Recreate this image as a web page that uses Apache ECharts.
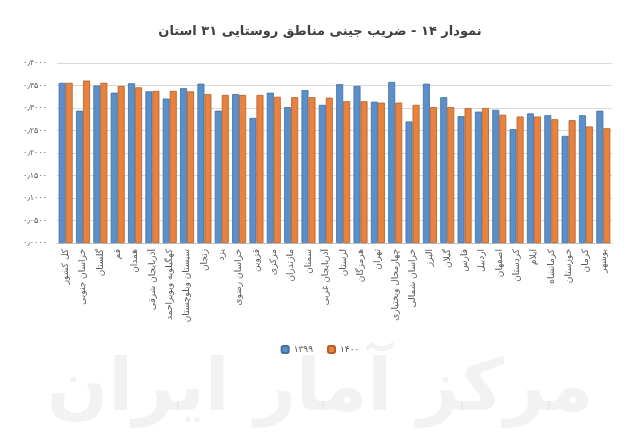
<!DOCTYPE html>
<html><head><meta charset="utf-8">
<script src="https://cdn.jsdelivr.net/npm/echarts@6/dist/echarts.min.js"></script>
<style>html,body{margin:0;padding:0;background:#fff}#c{width:640px;height:447px}</style>
</head><body><div id="c"></div>
<script>
const categories = ['کل کشور','خراسان جنوبی','گلستان','قم','همدان','آذربایجان شرقی','کهگیلویه وبویراحمد','سیستان وبلوچستان','زنجان','یزد','خراسان رضوی','قزوین','مرکزی','مازندران','سمنان','آذربایجان غربی','لرستان','هرمزگان','تهران','چهارمحال وبختیاری','خراسان شمالی','البرز','گیلان','فارس','اردبیل','اصفهان','کردستان','ایلام','کرمانشاه','خوزستان','کرمان','بوشهر'];
const values1399 = [0.356,0.294,0.350,0.334,0.355,0.337,0.321,0.344,0.354,0.294,0.331,0.278,0.334,0.302,0.340,0.307,0.353,0.349,0.314,0.358,0.270,0.354,0.324,0.282,0.292,0.296,0.253,0.288,0.284,0.238,0.284,0.294];
const values1400 = [0.356,0.361,0.356,0.349,0.346,0.338,0.338,0.337,0.331,0.329,0.329,0.329,0.325,0.324,0.324,0.323,0.315,0.315,0.312,0.312,0.307,0.302,0.302,0.300,0.300,0.285,0.281,0.281,0.275,0.273,0.259,0.255];
const seriesNames = ['۱۳۹۹','۱۴۰۰'];
const titleText = 'نمودار ۱۴ - ضریب جینی مناطق روستایی ۳۱ استان';
const watermark = 'مرکز آمار ایران';

const fa = s => String(s).replace(/\d/g, d => '۰۱۲۳۴۵۶۷۸۹'[d]).replace('.', '٫');
const chart = echarts.init(document.getElementById('c'));
chart.setOption({
  backgroundColor: '#fff',
  animation: false,
  textStyle: { fontFamily: 'DejaVu Sans' },
  graphic: [{
    type: 'text', left: 'center', top: 355, z: -1,
    style: { text: watermark, font: 'bold 72px DejaVu Sans', fill: 'rgba(0,0,0,0.05)' }
  }],
  title: {
    text: titleText, left: 'center', top: 20,
    textStyle: { fontSize: 13, fontWeight: 'bold', color: '#404040', fontFamily: 'DejaVu Sans' }
  },
  legend: {
    data: seriesNames, bottom: 88, left: 'center', itemWidth: 7, itemHeight: 7, itemGap: 14,
    textStyle: { fontSize: 9, color: '#595959' }
  },
  grid: { left: 57, right: 28, top: 63, bottom: 204 },
  xAxis: {
    type: 'category', data: categories,
    axisLine: { lineStyle: { color: '#bfbfbf' } },
    axisTick: { show: false },
    axisLabel: { rotate: 90, interval: 0, fontSize: 9, color: '#595959', margin: 6 }
  },
  yAxis: {
    type: 'value', min: 0, max: 0.4, interval: 0.05,
    axisLine: { show: false }, axisTick: { show: false },
    splitLine: { lineStyle: { color: '#d9d9d9' } },
    axisLabel: { fontSize: 8, color: '#595959', margin: 10, formatter: v => fa(v.toFixed(4)) }
  },
  series: [
    { name: seriesNames[0], type: 'bar', data: values1399, barWidth: 7, barGap: '0%',
      itemStyle: { color: '#5b8fc9', borderColor: '#41709f', borderWidth: 0.8 } },
    { name: seriesNames[1], type: 'bar', data: values1400, barWidth: 7,
      itemStyle: { color: '#e8823e', borderColor: '#b25f26', borderWidth: 0.8 } }
  ]
});
</script></body></html>
